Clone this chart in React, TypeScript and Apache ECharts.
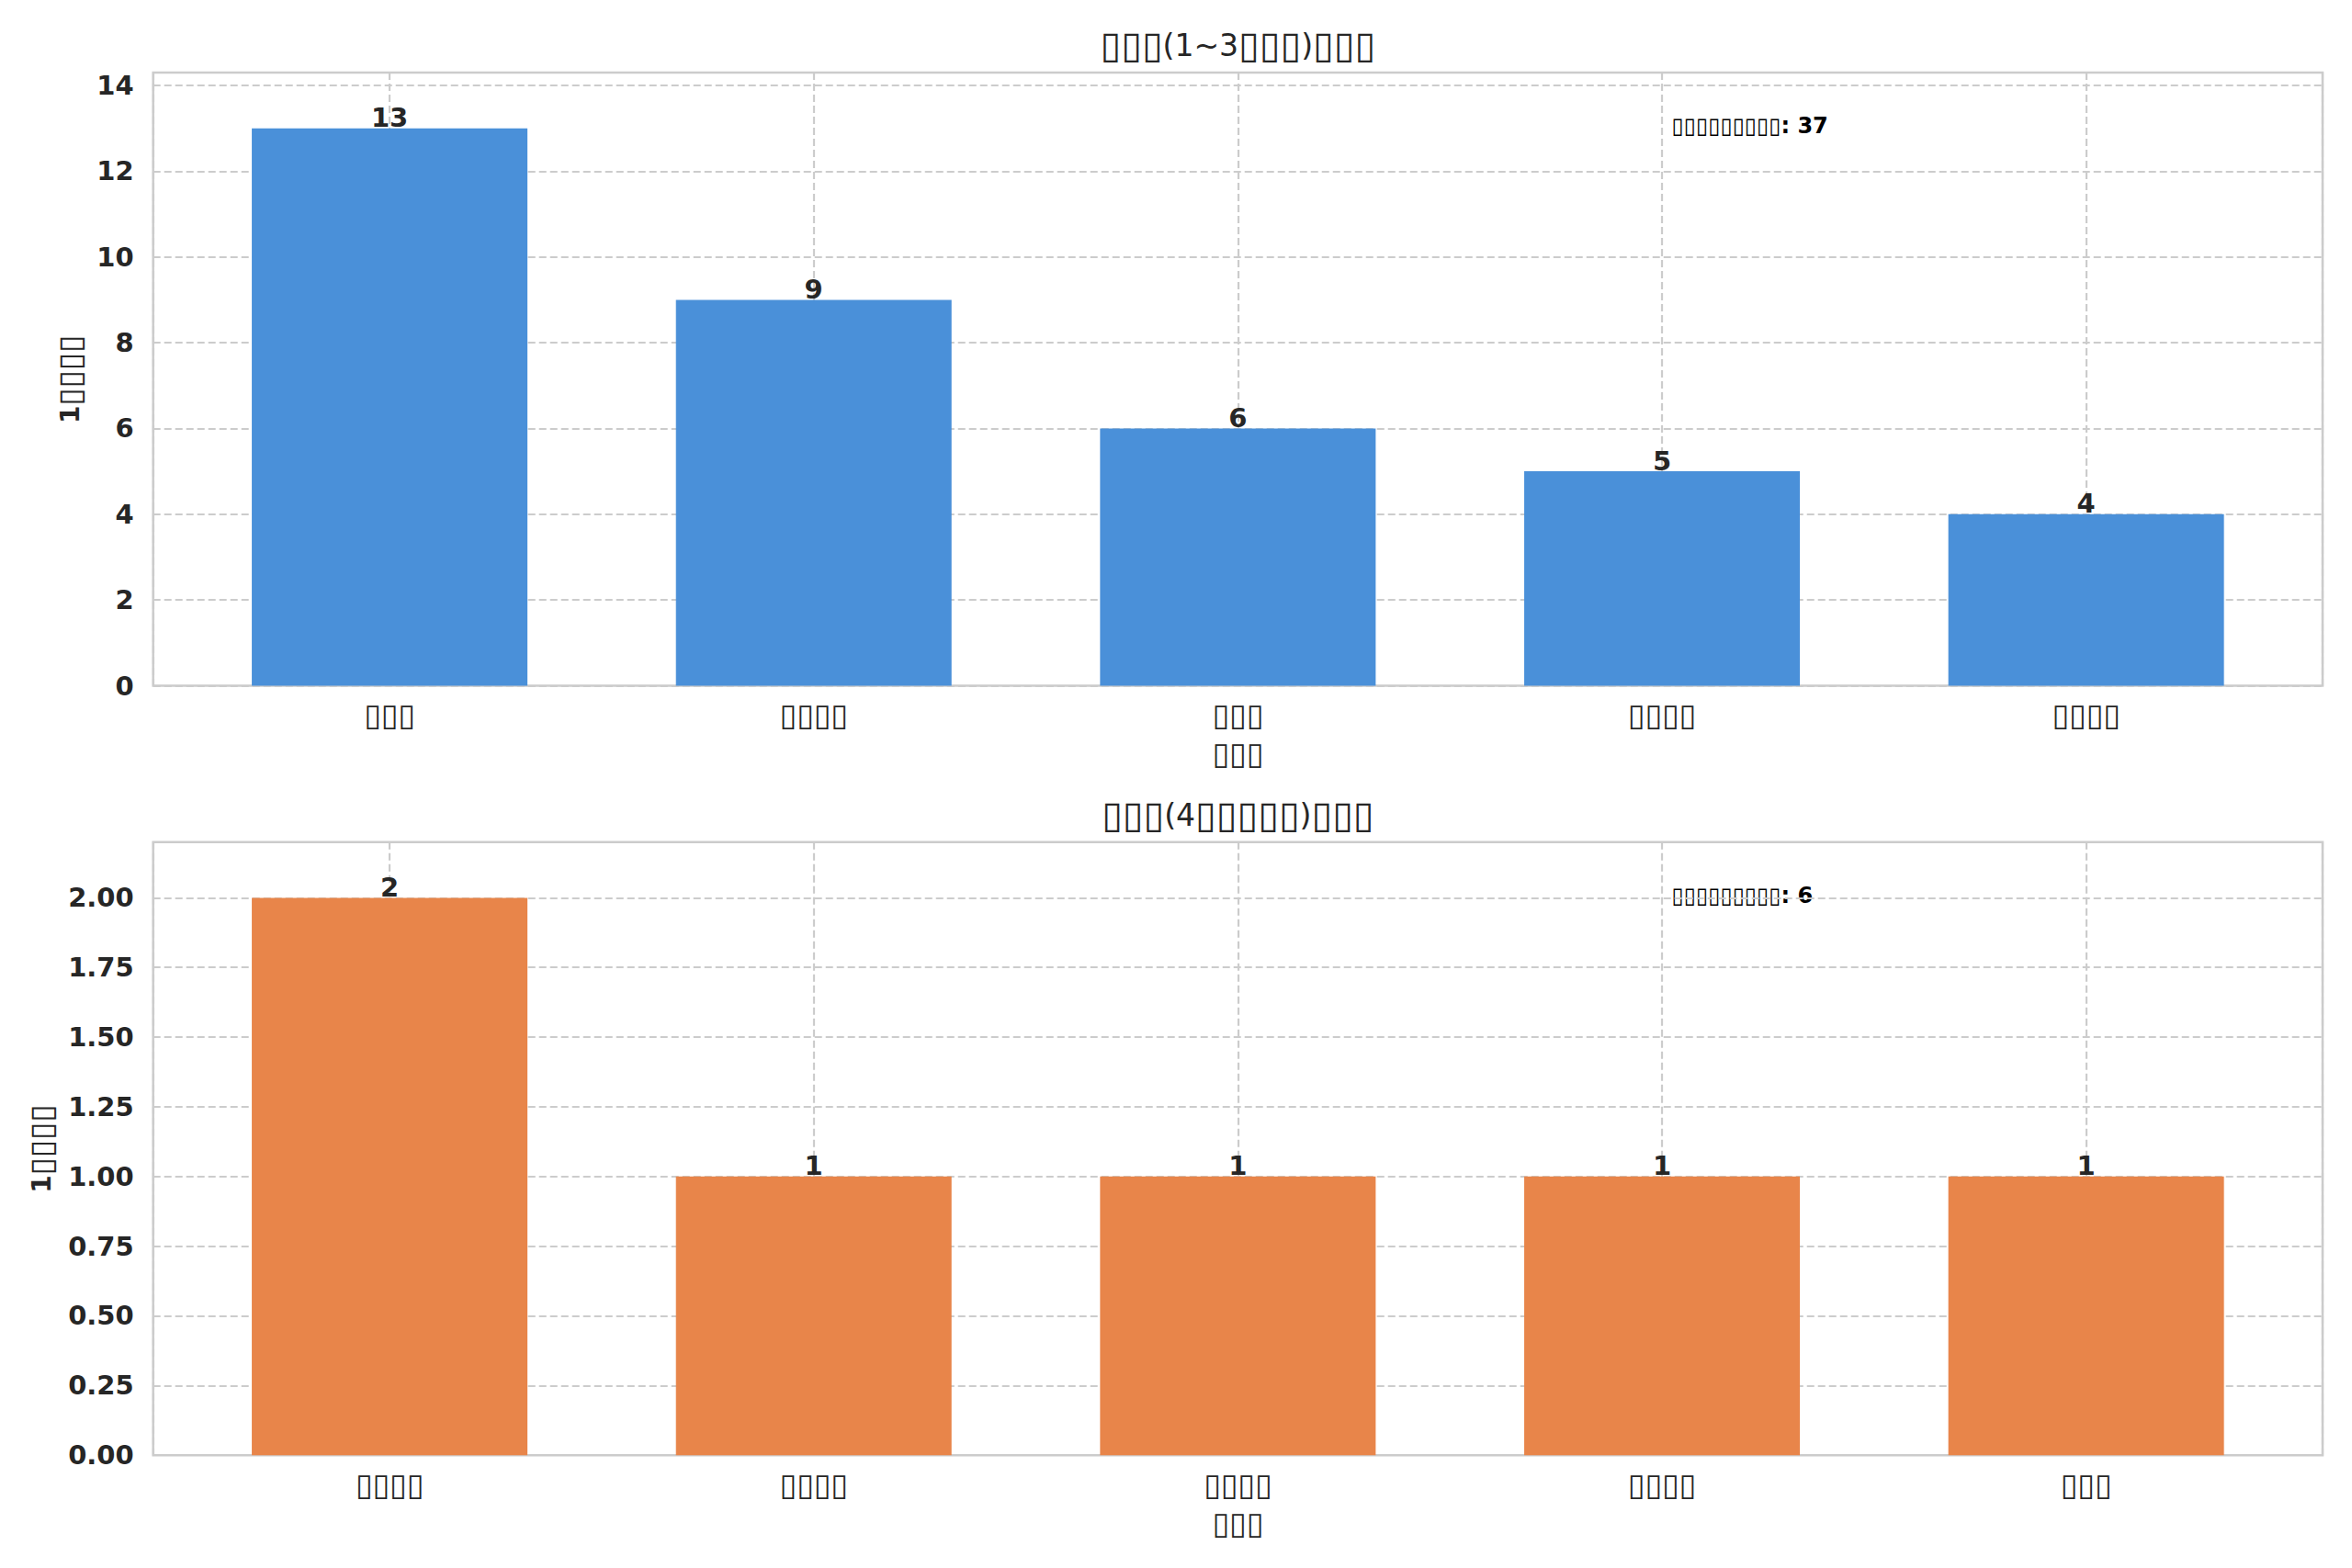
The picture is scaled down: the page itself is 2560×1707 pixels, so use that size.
import { useEffect, useRef } from 'react';
import * as echarts from 'echarts';

// top subplot (the source glyphs were missing, drawn as empty boxes)
const topCats = ['▯▯▯', '▯▯▯▯', '▯▯▯', '▯▯▯▯', '▯▯▯▯'];
const topValues = [13, 9, 6, 5, 4];
// bottom subplot
const bottomCats = ['▯▯▯▯', '▯▯▯▯', '▯▯▯▯', '▯▯▯▯', '▯▯▯'];
const bottomValues = [2, 1, 1, 1, 1];

const topTitle = '▯▯▯(1~3▯▯▯)▯▯▯';
const bottomTitle = '▯▯▯(4▯▯▯▯▯)▯▯▯';
const xName = '▯▯▯';
const yName = '1▯▯▯▯';
const noteLabel = '▯▯▯▯▯▯▯▯▯';

const W = 2560;
const H = 1707;
const FONT = '"DejaVu Sans", sans-serif';
const INK = '#262626';
const GRID = '#cccccc';

const gx = 166.7;
const gw = 2361.3;
const gTop = [79, 916.7];
const gh = 667.5;

// the missing-glyph boxes are a bit bigger than the ▯ glyph
const BOX = 1.25;
const boxed = (s: string) => s.replace(/▯+/g, (m) => `{q|${m}}`);
// title: every run gets its own rich style
const boxedAll = (s: string) =>
  s.split(/(▯+)/).filter((p) => p).map((p) => (p[0] === '▯' ? `{q|${p}}` : `{n|${p}}`)).join('');
const boxRich = (size: number) => ({
  q: { fontFamily: FONT, fontSize: size * BOX, fontWeight: 'normal', color: INK },
  n: { fontFamily: FONT, fontSize: size, fontWeight: 'normal', color: INK },
});

export default function App() {
  const chartRef = useRef<HTMLDivElement>(null);

  useEffect(() => {
    if (!chartRef.current) return;
    document.body.style.margin = '0';
    const chart = echarts.init(chartRef.current, null, { renderer: 'svg' });

    const xAxisFor = (i: number, cats: string[]) => ({
      type: 'value', gridIndex: i, min: -0.5575, max: 4.5575,
      name: boxed(xName), nameLocation: 'middle', nameGap: 57,
      nameTextStyle: { fontFamily: FONT, fontSize: 27, color: INK, rich: boxRich(27) },
      axisLine: { show: false }, axisTick: { show: false },
      axisLabel: {
        margin: 15, fontFamily: FONT, fontSize: 27, color: INK, rich: boxRich(27),
        formatter: (v: number) => {
          const r = Math.round(v);
          return Math.abs(v - r) < 1e-6 && cats[r] !== undefined ? boxed(cats[r]) : '';
        },
      },
      splitLine: { show: true, lineStyle: { color: GRID, width: 2.2, type: [8, 4] } },
    });

    const yAxisFor = (i: number, max: number, interval: number, gap: number, fmt: (v: number) => string) => ({
      type: 'value', gridIndex: i, min: 0, max, interval,
      name: boxed(yName), nameLocation: 'middle', nameGap: gap,
      nameTextStyle: { fontFamily: FONT, fontSize: 28, fontWeight: 'bold', color: INK, rich: boxRich(28) },
      axisLine: { show: false }, axisTick: { show: false },
      axisLabel: {
        margin: 21, fontFamily: FONT, fontSize: 29, fontWeight: 'bold', color: INK,
        showMaxLabel: false, formatter: fmt,
      },
      splitLine: { show: true, lineStyle: { color: GRID, width: 2.2, type: [8, 4] } },
    });

    const barSeries = (i: number, vals: number[], color: string) => ({
      type: 'bar', xAxisIndex: i, yAxisIndex: i, barWidth: 300,
      data: vals.map((v, k) => [k, v]),
      itemStyle: { color },
      label: {
        show: true, position: 'top', distance: -3,
        fontFamily: FONT, fontSize: 29, fontWeight: 'bold', color: INK,
        formatter: (p: any) => String(p.value[1]),
      },
    });

    const sum = (a: number[]) => a.reduce((s, v) => s + v, 0);
    const note = (y: number, total: number) => ({
      type: 'text', x: gx + 0.7 * gw, y,
      style: {
        text: `{a|${noteLabel}}{b|: ${total}}`, textVerticalAlign: 'middle',
        rich: {
          a: { fontFamily: FONT, fontSize: 24, color: INK },
          b: { fontFamily: FONT, fontSize: 24, fontWeight: 'bold', color: INK },
        },
      },
    });
    const title = (y: number, text: string) => ({
      type: 'text', x: gx + gw / 2, y,
      style: {
        text: boxedAll(text), textAlign: 'center', textVerticalAlign: 'middle',
        fontFamily: FONT, fontSize: 33, fill: INK, rich: boxRich(33),
      },
    });

    chart.setOption({
      animation: false,
      backgroundColor: '#ffffff',
      textStyle: { fontFamily: FONT },
      grid: gTop.map((t) => ({
        left: gx, top: t, width: gw, height: gh,
        show: true, borderColor: GRID, borderWidth: 2.5, backgroundColor: '#ffffff',
      })),
      xAxis: [xAxisFor(0, topCats), xAxisFor(1, bottomCats)],
      yAxis: [
        yAxisFor(0, 14.3, 2, 73, (v) => String(v)),
        yAxisFor(1, 2.2, 0.25, 104, (v) => v.toFixed(2)),
      ],
      series: [
        barSeries(0, topValues, '#4a90d9'),
        barSeries(1, bottomValues, '#e8854a'),
      ],
      graphic: [
        title(49, topTitle),
        title(887, bottomTitle),
        note(137, sum(topValues)),
        note(975, sum(bottomValues)),
      ],
    });

    return () => chart.dispose();
  }, []);

  return <div ref={chartRef} style={{ width: W, height: H }} />;
}
